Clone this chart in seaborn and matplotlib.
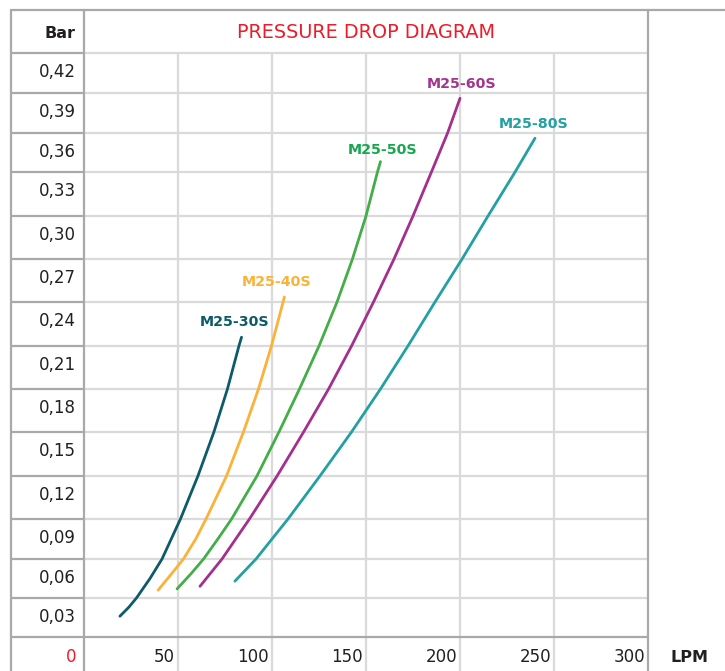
import matplotlib
matplotlib.use("Agg")
import matplotlib.pyplot as plt
import seaborn as sns
import pandas as pd
import numpy as np

# ---------------- data ----------------
models = ["M25-30S", "M25-40S", "M25-50S", "M25-60S", "M25-80S"]

flow_30 = [19.1, 23.9, 27.9, 35.1, 41.5, 51.3, 60.6, 69.1, 76.3, 82.4, 83.8]
bar_30 = [0.016, 0.023, 0.03, 0.045, 0.06, 0.09, 0.12, 0.15, 0.18, 0.21, 0.216]

flow_40 = [39.4, 46.5, 52.9, 59.6, 64.9, 75.8, 84.8, 92.8, 99.7, 105.9, 106.6]
bar_40 = [0.036, 0.0485, 0.06, 0.0754, 0.09, 0.12, 0.15, 0.18, 0.21, 0.24, 0.2435]

flow_50 = [49.5, 57.0, 63.6, 71.4, 78.5, 92.0, 103.7, 114.6, 125.0, 134.6, 142.8,
           150.0, 156.1, 157.7]
bar_50 = [0.037, 0.0488, 0.06, 0.0754, 0.09, 0.12, 0.15, 0.18, 0.21, 0.24, 0.27,
          0.30, 0.33, 0.338]

flow_60 = [61.7, 73.4, 88.0, 102.7, 116.8, 130.1, 142.3, 154.0, 164.9, 175.0, 184.8, 193.4, 200.0]
bar_60 = [0.039, 0.06, 0.09, 0.12, 0.15, 0.18, 0.21, 0.24, 0.27, 0.30, 0.33, 0.36, 0.386]

flow_80 = [80.3, 91.5, 108.5, 125.5, 142.3, 157.7, 172.3, 186.7, 201.1, 214.9, 229.3, 239.9]
bar_80 = [0.043, 0.06, 0.09, 0.12, 0.15, 0.18, 0.21, 0.24, 0.27, 0.30, 0.33, 0.356]

x_ticks = [50, 100, 150, 200, 250, 300]
x_tick_labels = ["50", "100", "150", "200", "250", "300"]
y_ticks = [0.03, 0.06, 0.09, 0.12, 0.15, 0.18, 0.21, 0.24, 0.27, 0.30, 0.33, 0.36, 0.39, 0.42]
y_tick_labels = ["0,03", "0,06", "0,09", "0,12", "0,15", "0,18", "0,21", "0,24",
                 "0,27", "0,30", "0,33", "0,36", "0,39", "0,42"]

title = "PRESSURE DROP DIAGRAM"
y_unit = "Bar"
x_unit = "LPM"
origin_label = "0"

# ---------------- styles / layout ----------------
line_colors = {"M25-30S": "#0d5b68", "M25-40S": "#fbb236", "M25-50S": "#43ad48",
               "M25-60S": "#a32f8e", "M25-80S": "#23a0a2"}
label_colors = {"M25-30S": "#0d5b68", "M25-40S": "#fbb236", "M25-50S": "#17a84f",
                "M25-60S": "#a5348f", "M25-80S": "#23a0a2"}
label_offsets_pt = {"M25-30S": (-5, 11), "M25-40S": (-5.5, 11), "M25-50S": (1.5, 8),
                    "M25-60S": (1, 10), "M25-80S": (-1, 10)}
# row heights of the hand-drawn grid (pixels, bottom to top)
row_heights_px = [39, 39, 40, 43, 44, 43, 43, 44, 43, 43, 44, 39, 40, 40]

GRID = "#dadada"
FRAME = "#a9a9a9"
RED = "#ec1c2a"
TEXT = "#231f20"

sns.set_theme(style="white")
plt.rcParams["font.family"] = ["DejaVu Sans"]

flows = [flow_30, flow_40, flow_50, flow_60, flow_80]
bars = [bar_30, bar_40, bar_50, bar_60, bar_80]
rows = []
for m, fl, br in zip(models, flows, bars):
    for f, b in zip(fl, br):
        rows.append({"model": m, "flow": f, "bar": b})
df = pd.DataFrame(rows)

# piecewise-linear y scale following the grid rows
grid_vals = np.array([0.0] + y_ticks)
grid_pos = np.concatenate([[0.0], np.cumsum(row_heights_px)]).astype(float)


def _interp(v, xs, ys):
    v = np.asarray(v, dtype=float)
    out = np.interp(v, xs, ys)
    s0 = (ys[1] - ys[0]) / (xs[1] - xs[0])
    s1 = (ys[-1] - ys[-2]) / (xs[-1] - xs[-2])
    out = np.where(v < xs[0], ys[0] + (v - xs[0]) * s0, out)
    out = np.where(v > xs[-1], ys[-1] + (v - xs[-1]) * s1, out)
    return out


def fwd(v):
    return _interp(v, grid_vals, grid_pos)


def inv(p):
    return _interp(p, grid_pos, grid_vals)


W, H = 725, 671
fig = plt.figure(figsize=(W / 100, H / 100), dpi=100)
fig.patch.set_facecolor("white")

# plot area: x 84..648 px, y 53..637 px
L, R, T, B = 84, 648, 53, 637
ax = fig.add_axes([L / W, (H - B) / H, (R - L) / W, (B - T) / H])
ax.set_yscale("function", functions=(fwd, inv))
ax.set_xlim(0, 300)
ax.set_ylim(0, 0.42)
ax.set_facecolor("white")

# grid
for xv in x_ticks[:-1]:
    ax.axvline(xv, color=GRID, lw=1.6, zorder=1)
    ax.vlines(xv, -(H - B) / (B - T), 0, transform=ax.get_xaxis_transform(),
              color=GRID, lw=1.6, clip_on=False, zorder=1)
for yv in y_ticks:
    ax.axhline(yv, color=GRID, lw=1.6, zorder=1, clip_on=False)

sns.lineplot(data=df, x="flow", y="bar", hue="model", palette=line_colors,
             units="model", estimator=None, sort=False, legend=False,
             lw=2.0, ax=ax, zorder=3, solid_capstyle="round",
             solid_joinstyle="round")

for m, fl, br in zip(models, flows, bars):
    ax.annotate(m, (fl[-1], br[-1]), xytext=label_offsets_pt[m],
                textcoords="offset points", ha="center", va="center",
                fontsize=10.3, fontweight="bold", color=label_colors[m], zorder=4)

for s in ax.spines.values():
    s.set_visible(False)
ax.set_xticks([])
ax.set_yticks([])
ax.minorticks_off()
ax.set_xlabel("")
ax.set_ylabel("")

# frame lines of the table layout
colw = (L - 11) / (R - L)
for yv in y_ticks:
    ax.hlines(yv, -colw, 0, transform=ax.get_yaxis_transform(), color=FRAME,
              lw=1.6, clip_on=False)
ax.hlines(0, -colw, 1, transform=ax.get_yaxis_transform(), color=FRAME,
          lw=1.6, clip_on=False, zorder=2)

ov = fig.add_axes([0, 0, 1, 1], zorder=5)
ov.set_xlim(0, W)
ov.set_ylim(H, 0)
ov.axis("off")
ov.patch.set_alpha(0)
ov.plot([11, W], [10, 10], color=FRAME, lw=1.6)
ov.plot([11, 11], [10, H], color=FRAME, lw=1.6)
ov.plot([L, L], [10, H], color=FRAME, lw=1.6)
ov.plot([R, R], [10, H], color=FRAME, lw=1.6)

# texts
ov.text(76, 33, y_unit, ha="right", va="center", fontsize=11.5, fontweight="bold",
        color=TEXT)
ov.text((L + R) / 2, 33, title, ha="center", va="center", fontsize=13.9,
        color=RED)
ov.text(76, 657, origin_label, ha="right", va="center", fontsize=12, color=RED)
ov.text(690, 657, x_unit, ha="center", va="center", fontsize=11.5,
        fontweight="bold", color=TEXT)

for yv, lab in zip(y_ticks, y_tick_labels):
    ax.annotate(lab, (0, yv), xycoords=("axes fraction", "data"),
                xytext=(-6, -13.5), textcoords="offset points",
                ha="right", va="center", fontsize=12, color=TEXT)
for xv, lab in zip(x_ticks, x_tick_labels):
    ax.annotate(lab, (xv, 0), xycoords=("data", "axes fraction"),
                xytext=(-2, -14.5), textcoords="offset points",
                ha="right", va="center", fontsize=12, color=TEXT)

fig.savefig("out.png", dpi=100, facecolor="white")
